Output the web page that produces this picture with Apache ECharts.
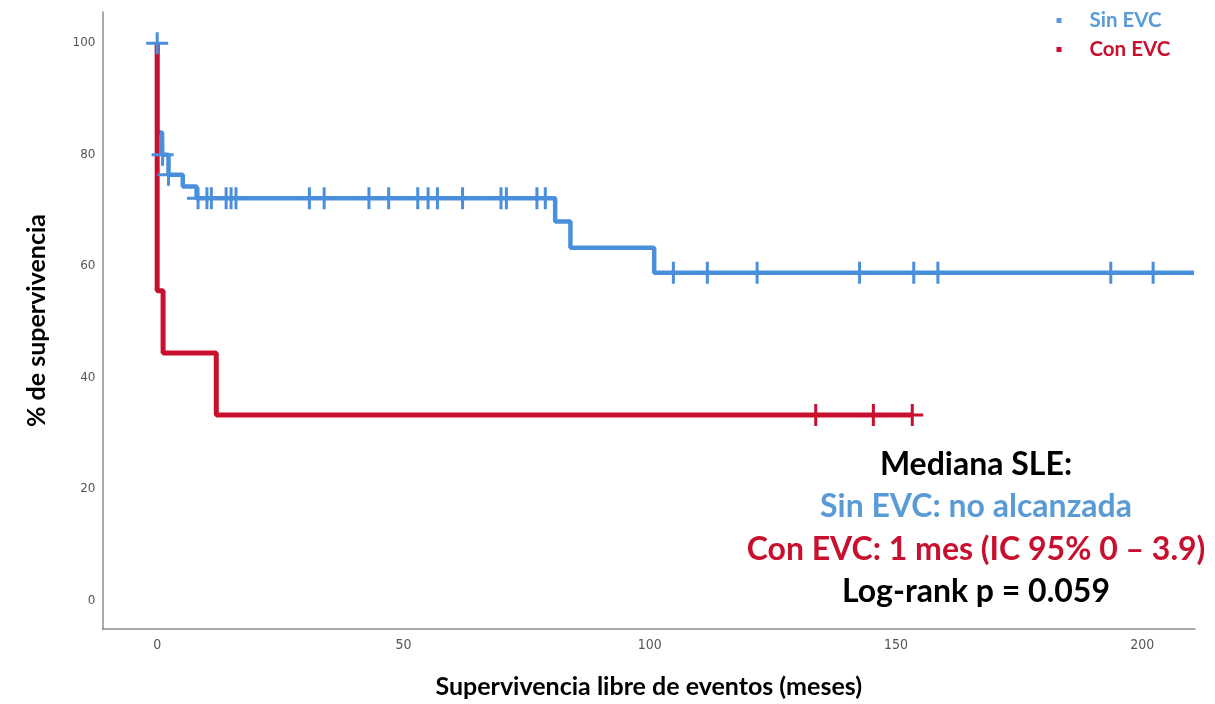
<!DOCTYPE html>
<html><head><meta charset="utf-8">
<script src="https://cdn.jsdelivr.net/npm/echarts@6/dist/echarts.min.js"></script>
<style>html,body{margin:0;padding:0;background:#fff}#c{width:1215px;height:704px}</style>
</head><body><div id="c"></div>
<script>
// ---- data ----
const xTicks = [0, 50, 100, 150, 200];
const yTicks = [0, 20, 40, 60, 80, 100];
const seriesNames = ['Sin EVC', 'Con EVC'];

// Kaplan-Meier steps (time in months, % survival after the step)
const sinTimes = [0, 0, 1.0, 2.3, 5.2, 8.0, 80.8, 83.9, 100.9, 210.5];
const sinSurv  = [100, 84, 80, 76.4, 74.3, 72.2, 68.0, 63.3, 58.8, 58.8];
const sinCensTimes = [0, 1.1, 2.3, 8.3, 10.1, 11.0, 14.0, 15.0, 16.0, 30.9, 33.9, 43.0, 47.0, 52.9, 55.0, 56.9, 62.0, 69.8, 70.9, 77.1, 78.8, 104.8, 111.7, 121.8, 142.6, 153.6, 158.5, 193.6, 202.2];
const sinCensSurv  = [100, 80, 76.4, 72.2, 72.2, 72.2, 72.2, 72.2, 72.2, 72.2, 72.2, 72.2, 72.2, 72.2, 72.2, 72.2, 72.2, 72.2, 72.2, 72.2, 72.2, 58.8, 58.8, 58.8, 58.8, 58.8, 58.8, 58.8, 58.8];

const conTimes = [0, 0, 1.2, 12.0, 153.3];
const conSurv  = [100, 55.6, 44.4, 33.3, 33.3];
const conCensTimes = [133.7, 145.4, 153.3];
const conCensSurv  = [33.3, 33.3, 33.3];

const annotationLines = ['Mediana SLE:', 'Sin EVC: no alcanzada', 'Con EVC: 1 mes (IC 95% 0 \u2013 3.9)', 'Log-rank p = 0.059'];

// ---- styling ----
const BLUE = '#4A8FDC', RED = '#C8102E', BLUE_TXT = '#5B9BD5';
const zip = (a, b) => a.map((v, i) => [v, b[i]]);
const plus = 'path://M9.5,0h3v9.5h9.5v3h-9.5v9.5h-3v-9.5h-9.5v-3h9.5z';
const annoColors = ['#000', BLUE_TXT, RED, '#000'];
const annoY = [465, 507, 550, 592];

const chart = echarts.init(document.getElementById('c'), null, {renderer: 'canvas'});
chart.setOption({
  animation: false,
  backgroundColor: '#fff',
  grid: {left: 102.5, right: 20, top: 12, bottom: 74, containLabel: false},
  xAxis: {
    type: 'value', min: -11.1, max: 210.7,
    axisLine: {show: true, onZero: false, lineStyle: {color: '#8c8c8c', width: 1.5}},
    axisTick: {show: false}, splitLine: {show: false},
    axisLabel: {customValues: xTicks, fontFamily: 'DejaVu Sans Condensed', fontSize: 14, color: '#555', margin: 9},
    name: 'Supervivencia libre de eventos (meses)', nameLocation: 'middle', nameGap: 45,
    nameTextStyle: {fontFamily: 'Lato', fontWeight: 'bold', fontSize: 25, color: '#000'}
  },
  yAxis: {
    type: 'value', min: -5.1, max: 105.6,
    axisLine: {show: true, onZero: false, lineStyle: {color: '#8c8c8c', width: 1.5}},
    axisTick: {show: false}, splitLine: {show: false},
    axisLabel: {customValues: yTicks, fontFamily: 'DejaVu Sans', fontSize: 12, color: '#555', margin: 7},
    name: '% de supervivencia', nameLocation: 'middle', nameRotate: 90, nameGap: 53,
    nameTextStyle: {fontFamily: 'Lato', fontWeight: 'bold', fontSize: 25, color: '#000'}
  },
  legend: {
    orient: 'vertical', left: 1051.5, top: 5, icon: 'rect', itemWidth: 5, itemHeight: 5, itemGap: 8,
    selectedMode: false,
    textStyle: {fontFamily: 'Lato', fontWeight: 'bold', fontSize: 20.5, padding: [0, 0, 0, 23]},
    data: [
      {name: seriesNames[0], textStyle: {color: BLUE_TXT}, itemStyle: {color: BLUE_TXT}},
      {name: seriesNames[1], textStyle: {color: RED}, itemStyle: {color: RED}}
    ]
  },
  series: [
    {name: seriesNames[0], type: 'line', step: 'end', data: zip(sinTimes, sinSurv), showSymbol: false,
     lineStyle: {color: BLUE, width: 4.5}, itemStyle: {color: BLUE}, z: 2},
    {name: seriesNames[1], type: 'line', step: 'end', data: zip(conTimes, conSurv), showSymbol: false,
     lineStyle: {color: RED, width: 5}, itemStyle: {color: RED}, z: 3},
    {name: seriesNames[0] + ' censurado', type: 'scatter', data: zip(sinCensTimes, sinCensSurv),
     symbol: plus, symbolSize: 22, itemStyle: {color: BLUE, opacity: 1}, z: 4},
    {name: seriesNames[1] + ' censurado', type: 'scatter', data: zip(conCensTimes, conCensSurv),
     symbol: plus, symbolSize: 22, itemStyle: {color: RED, opacity: 1}, z: 5}
  ],
  graphic: annotationLines.map((t, i) => ({
    type: 'text', x: 976, y: annoY[i], z: 10,
    style: {text: t, align: 'center', verticalAlign: 'middle', fill: annoColors[i],
            font: 'bold 32px Lato'}
  }))
});
</script>
</body></html>
